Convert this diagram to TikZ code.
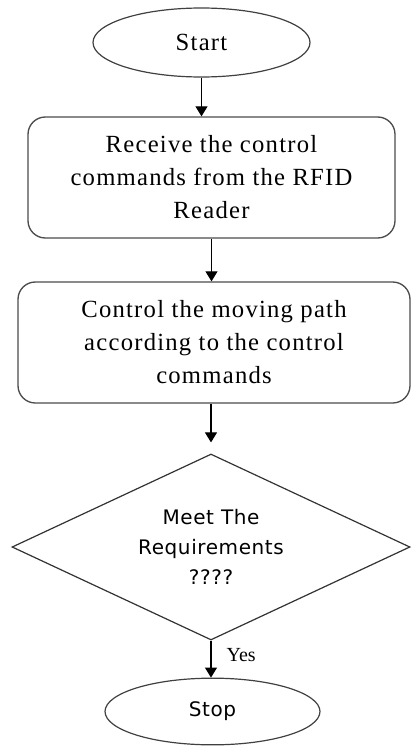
\documentclass[tikz,border=0pt]{standalone}
\usepackage{fontspec}
\usetikzlibrary{shapes.geometric,arrows.meta}
\newfontfamily\flowserif[LetterSpace=5]{Liberation Serif}
\newfontfamily\flowsans[LetterSpace=3]{DejaVu Sans}
\newfontfamily\yesfont{Liberation Serif}
\tikzset{
	terminal/.style={draw=black!75, line width=0.9pt, ellipse, inner sep=0pt},
	process/.style={draw=black!70, line width=1pt, rounded corners=13pt, align=center,
		minimum height=90.75pt, font=\flowserif\fontsize{18.5}{24.75}\selectfont},
	decision/.style={draw=black!80, line width=0.9pt, diamond, aspect=2.14, inner sep=0pt, align=center,
		minimum width=298.5pt, minimum height=139.5pt, font=\flowsans\fontsize{15}{22.5}\selectfont},
	flow/.style={draw=black, line width=0.8pt, -{Triangle[width=9pt,length=7.5pt]}}
}

\begin{document}
\begin{tikzpicture}[x=0.75pt, y=-0.75pt]
		%%%%% START %%%%%
		\useasboundingbox (0, 0) rectangle (411, 749);
		
		\node[terminal, minimum width=162.75pt, minimum height=51.75pt, font=\flowserif\fontsize{18.5}{20}\selectfont] (start) at (201.5, 42.5) {Start};
		
		\node[process, minimum width=275.25pt] (receive) at (211.5, 177.5) {Receive the control\\commands from the RFID\\Reader};
		
		\node[process, minimum width=294pt] (control) at (214, 342.5) {Control the moving path\\according to the control\\commands};
		
		\node[decision] (meet) at (211, 547) {Meet The\\Requirements\\????};
		
		\node[terminal, minimum width=161.25pt, minimum height=50pt, font=\flowsans\fontsize{15}{16}\selectfont] (stop) at (212.5, 711.5) {Stop};
		
		\draw[flow] (start.south) -- (start.south |- receive.north);
		\draw[flow] (receive.south) -- (receive.south |- control.north);
		\draw[flow, shorten >=8.25pt] (control.south -| meet.north) -- (meet.north);
		\draw[flow] (meet.south) -- (meet.south |- stop.north) node[pos=0.4, anchor=west, xshift=8pt, font=\yesfont\fontsize{15}{16}\selectfont] (yes) {Yes};
		%%%%% END %%%%%
	\end{tikzpicture}
\end{document}
